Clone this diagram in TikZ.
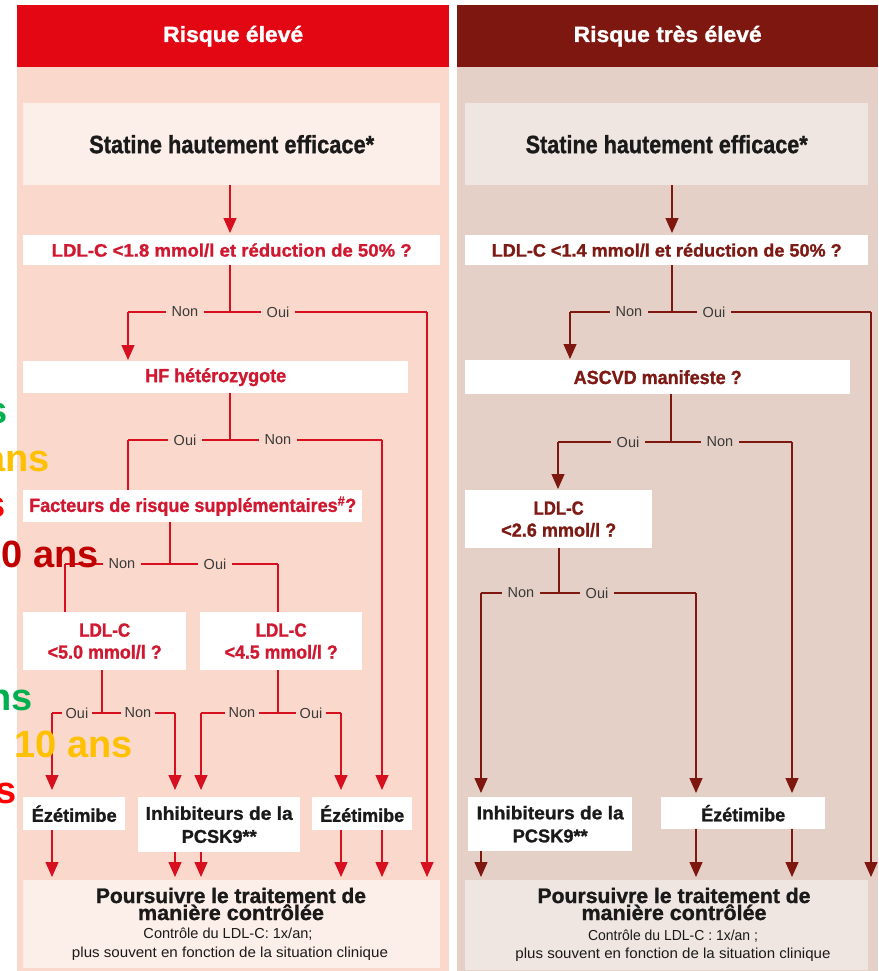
\documentclass[tikz,border=0pt]{standalone}
\usepackage{fontspec}
\setmainfont{Liberation Sans}[BoldFeatures={FakeBold=1.2}]
\newfontfamily\ovfont{Liberation Sans}
\usepackage{graphicx}
\usetikzlibrary{arrows.meta}
\definecolor{hdrL}{HTML}{E30613}
\definecolor{hdrR}{HTML}{7F1711}
\definecolor{bgL}{HTML}{FAD9CC}
\definecolor{bgR}{HTML}{E4D0C6}
\definecolor{liteL}{HTML}{FCEEE8}
\definecolor{liteR}{HTML}{F0E6E1}
\definecolor{txtL}{HTML}{D01931}
\definecolor{txtR}{HTML}{7D1A14}
\definecolor{lineL}{HTML}{D7101F}
\definecolor{lineR}{HTML}{7F1711}
\definecolor{labgray}{HTML}{3A3A3A}
\definecolor{ink}{HTML}{1A1A1A}
\definecolor{ovG}{HTML}{00B050}
\definecolor{ovY}{HTML}{FFC000}
\definecolor{ovR}{HTML}{FF0000}
\definecolor{ovD}{HTML}{C00000}
\newcommand{\tx}[2]{\resizebox{#1pt}{\height}{#2}}
\newcommand{\fs}[2]{\fontsize{#1}{#2}\selectfont}
\begin{document}
\begin{tikzpicture}[x=1pt,y=-1pt,
  bx/.style={anchor=north west,inner sep=0pt,align=center},
  hdr/.style={bx,text=white,font=\bfseries\fs{22}{24}},
  bigblk/.style={bx,text=ink,font=\bfseries\fs{25}{28}},
  qL/.style={bx,fill=white,text=txtL,font=\bfseries\fs{19}{22}},
  qR/.style={bx,fill=white,text=txtR,font=\bfseries\fs{19}{22}},
  ther/.style={bx,fill=white,text=ink,font=\bfseries\fs{18.5}{23}},
  lnL/.style={draw=lineL,line width=1.3pt},
  lnR/.style={draw=lineR,line width=1.3pt},
  tip/.style={-{Triangle[width=13pt,length=15pt]}},
  lab/.style={inner xsep=6pt,inner ysep=1pt,text=labgray,font=\fs{14.5}{16}},
  labL/.style={lab,fill=bgL},
  labR/.style={lab,fill=bgR},
  fin/.style={anchor=base,inner sep=0pt,text=ink},
  ov/.style={anchor=base east,inner sep=0pt,font=\ovfont\bfseries\fs{38}{40}},
]
\useasboundingbox (0,0) rectangle (878,971);
\fill[white] (0,0) rectangle (878,971);
\fill[bgL] (17,67) rectangle (449,971);
\fill[bgR] (457,67) rectangle (878,971);

% ---------- headers
\node[hdr,fill=hdrL,minimum width=432pt,minimum height=62pt] (hL) at (17,5) {\tx{140}{Risque élevé}};
\node[hdr,fill=hdrR,minimum width=421pt,minimum height=62pt] (hR) at (457,5) {\tx{188}{Risque très élevé}};

% ---------- left boxes
\node[bigblk,fill=liteL,minimum width=417pt,minimum height=82pt] (statL) at (23,103) {\tx{285}{Statine hautement efficace*}};
\node[qL,font=\bfseries\fs{18}{20},minimum width=417pt,minimum height=30pt] (ldlL) at (23,235) {\tx{360}{LDL-C <1.8 mmol/l et réduction de 50\% ?}};
\node[qL,minimum width=385pt,minimum height=32pt] (hfL) at (23,361) {\tx{141}{HF hétérozygote}};
\node[qL,minimum width=339pt,minimum height=32pt] (facL) at (23,490) {\tx{327}{Facteurs de risque supplémentaires\textsuperscript{\#}?}};
\node[qL,minimum width=163pt,minimum height=58pt] (ldl5) at (23,612) {\tx{51}{LDL-C}\\\tx{114}{<5.0 mmol/l ?}};
\node[qL,minimum width=162pt,minimum height=58pt] (ldl45) at (200,612) {\tx{51}{LDL-C}\\\tx{113}{<4.5 mmol/l ?}};
\node[ther,minimum width=102pt,minimum height=33pt] (ezL1) at (23,797) {\tx{85}{Ézétimibe}};
\node[ther,minimum width=162pt,minimum height=55pt] (inhL) at (138,797) {\tx{147}{Inhibiteurs de la}\\\tx{75}{PCSK9**}};
\node[ther,minimum width=100pt,minimum height=33pt] (ezL2) at (312,797) {\tx{84}{Ézétimibe}};
\node[bx,fill=liteL,minimum width=417pt,minimum height=88pt] (finL) at (23,880) {};

% ---------- right boxes
\node[bigblk,fill=liteR,minimum width=403pt,minimum height=82pt] (statR) at (465,103) {\tx{282}{Statine hautement efficace*}};
\node[qR,font=\bfseries\fs{18}{20},minimum width=403pt,minimum height=30pt] (ldlR) at (465,235) {\tx{350}{LDL-C <1.4 mmol/l et réduction de 50\% ?}};
\node[qR,minimum width=385pt,minimum height=34pt] (ascR) at (465,360) {\tx{168}{ASCVD manifeste ?}};
\node[qR,minimum width=187pt,minimum height=58pt] (ldl26) at (465,490) {\tx{50}{LDL-C}\\\tx{115}{<2.6 mmol/l ?}};
\node[ther,minimum width=164pt,minimum height=54pt] (inhR) at (468,797) {\tx{147}{Inhibiteurs de la}\\\tx{75}{PCSK9**}};
\node[ther,minimum width=164pt,minimum height=32pt] (ezR) at (661,797) {\tx{84}{Ézétimibe}};
\node[bx,fill=liteR,minimum width=403pt,minimum height=90pt] (finR) at (465,880) {};

% ---------- final texts
\node[fin,font=\bfseries\fs{21}{22}] (fL1) at (231,903) {\tx{270}{Poursuivre le traitement de}};
\node[fin,font=\bfseries\fs{21}{22}] (fL2) at (231,920) {\tx{186}{manière contrôlée}};
\node[fin,font=\fs{14.5}{16}] (fL3) at (228,938) {\tx{169}{Contrôle du LDL-C: 1x/an;}};
\node[fin,font=\fs{14.5}{16}] (fL4) at (230,957) {\tx{316}{plus souvent en fonction de la situation clinique}};
\node[fin,font=\bfseries\fs{21}{22}] (fR1) at (674,903) {\tx{273}{Poursuivre le traitement de}};
\node[fin,font=\bfseries\fs{21}{22}] (fR2) at (674,920) {\tx{185}{manière contrôlée}};
\node[fin,font=\fs{14.5}{16}] (fR3) at (673,940) {\tx{170}{Contrôle du LDL-C : 1x/an ;}};
\node[fin,font=\fs{14.5}{16}] (fR4) at (673,958) {\tx{315}{plus souvent en fonction de la situation clinique}};

% ---------- junction coordinates (left)
\coordinate (jL1) at (230,312); \coordinate (jL1l) at (128,312); \coordinate (jL1r) at (427,312);
\coordinate (jL2) at (230,440); \coordinate (jL2l) at (128,440); \coordinate (jL2r) at (382,440);
\coordinate (jL3) at (170,564); \coordinate (jL3l) at (65,564);  \coordinate (jL3r) at (278,564);
\coordinate (jL4) at (102,713); \coordinate (jL4l) at (52,713);  \coordinate (jL4r) at (175,713);
\coordinate (jL5) at (278,713); \coordinate (jL5l) at (201,713); \coordinate (jL5r) at (341,713);

% ---------- left connectors
\draw[lnL,tip,shorten >=2pt] (statL.south -| jL1) -- (ldlL.north -| jL1);
\draw[lnL] (ldlL.south -| jL1) -- (jL1);
\draw[lnL] (jL1l) -- (jL1r);
\draw[lnL,tip,shorten >=1pt] (jL1l) -- (hfL.north -| jL1l);
\draw[lnL,tip,shorten >=3pt] (jL1r) -- (finL.north -| jL1r);

\draw[lnL] (hfL.south -| jL2) -- (jL2);
\draw[lnL] (jL2l) -- (jL2r);
\draw[lnL] (jL2l) -- (facL.north -| jL2l);
\draw[lnL,tip,shorten >=7pt] (jL2r) -- (ezL2.north -| jL2r);

\draw[lnL] (facL.south -| jL3) -- (jL3);
\draw[lnL] (jL3l) -- (jL3r);
\draw[lnL] (jL3l) -- (ldl5.north -| jL3l);
\draw[lnL] (jL3r) -- (ldl45.north -| jL3r);

\draw[lnL] (ldl5.south -| jL4) -- (jL4);
\draw[lnL] (jL4l) -- (jL4r);
\draw[lnL,tip,shorten >=7pt] (jL4l) -- (ezL1.north -| jL4l);
\draw[lnL,tip,shorten >=7pt] (jL4r) -- (inhL.north -| jL4r);

\draw[lnL] (ldl45.south -| jL5) -- (jL5);
\draw[lnL] (jL5l) -- (jL5r);
\draw[lnL,tip,shorten >=7pt] (jL5l) -- (inhL.north -| jL5l);
\draw[lnL,tip,shorten >=7pt] (jL5r) -- (ezL2.north -| jL5r);

\draw[lnL,tip,shorten >=3pt] (ezL1.south -| jL4l) -- (finL.north -| jL4l);
\draw[lnL,tip,shorten >=3pt] (inhL.south -| jL4r) -- (finL.north -| jL4r);
\draw[lnL,tip,shorten >=3pt] (inhL.south -| jL5l) -- (finL.north -| jL5l);
\draw[lnL,tip,shorten >=3pt] (ezL2.south -| jL5r) -- (finL.north -| jL5r);
\draw[lnL,tip,shorten >=3pt] (ezL2.south -| jL2r) -- (finL.north -| jL2r);

% ---------- junction coordinates (right)
\coordinate (jR1) at (672,312); \coordinate (jR1l) at (570,312); \coordinate (jR1r) at (871,312);
\coordinate (jR2) at (671,442); \coordinate (jR2l) at (558,442); \coordinate (jR2r) at (792,442);
\coordinate (jR3) at (559,593); \coordinate (jR3l) at (481,593); \coordinate (jR3r) at (696,593);

% ---------- right connectors
\draw[lnR,tip,shorten >=2pt] (statR.south -| jR1) -- (ldlR.north -| jR1);
\draw[lnR] (ldlR.south -| jR1) -- (jR1);
\draw[lnR] (jR1l) -- (jR1r);
\draw[lnR,tip,shorten >=1pt] (jR1l) -- (ascR.north -| jR1l);
\draw[lnR,tip,shorten >=3pt] (jR1r) -- (finR.north -| jR1r);

\draw[lnR] (ascR.south -| jR2) -- (jR2);
\draw[lnR] (jR2l) -- (jR2r);
\draw[lnR,tip,shorten >=1pt] (jR2l) -- (ldl26.north -| jR2l);
\draw[lnR,tip,shorten >=4pt] (jR2r) -- (ezR.north -| jR2r);

\draw[lnR] (ldl26.south -| jR3) -- (jR3);
\draw[lnR] (jR3l) -- (jR3r);
\draw[lnR,tip,shorten >=4pt] (jR3l) -- (inhR.north -| jR3l);
\draw[lnR,tip,shorten >=4pt] (jR3r) -- (ezR.north -| jR3r);

\draw[lnR,tip,shorten >=3pt] (inhR.south -| jR3l) -- (finR.north -| jR3l);
\draw[lnR,tip,shorten >=3pt] (ezR.south -| jR3r) -- (finR.north -| jR3r);
\draw[lnR,tip,shorten >=3pt] (ezR.south -| jR2r) -- (finR.north -| jR2r);

% ---------- labels
\node[labL] (nL1) at (185,312) {Non};
\node[labL] (oL1) at (278,312) {Oui};
\node[labL] (oL2) at (185,440) {Oui};
\node[labL] (nL2) at (278,440) {Non};
\node[labL] (nL3) at (122,564) {Non};
\node[labL] (oL3) at (215,564) {Oui};
\node[labL,inner xsep=4pt] (oL4) at (77,713) {Oui};
\node[labL,inner xsep=4pt] (nL4) at (138,713) {Non};
\node[labL,inner xsep=4pt] (nL5) at (242,713) {Non};
\node[labL,inner xsep=4pt] (oL5) at (311,713) {Oui};
\node[labR] (nR1) at (629,312) {Non};
\node[labR] (oR1) at (714,312) {Oui};
\node[labR] (oR2) at (628,442) {Oui};
\node[labR] (nR2) at (720,442) {Non};
\node[labR] (nR3) at (521,593) {Non};
\node[labR] (oR3) at (597,593) {Oui};

% ---------- overlaid fragments at the left edge
\node[ov,text=ovG] (ov1) at (8,423) {ans};
\node[ov,text=ovY] (ov2) at (50,471) {ans};
\node[ov,text=ovR] (ov3) at (6,517) {ans};
\node[ov,text=ovD] (ov4) at (99,567) {10 ans};
\node[ov,text=ovG] (ov5) at (33,710) {ans};
\node[ov,text=ovY] (ov6) at (133,757) {10 ans};
\node[ov,text=ovR] (ov7) at (17,803) {ans};
\end{tikzpicture}
\end{document}
